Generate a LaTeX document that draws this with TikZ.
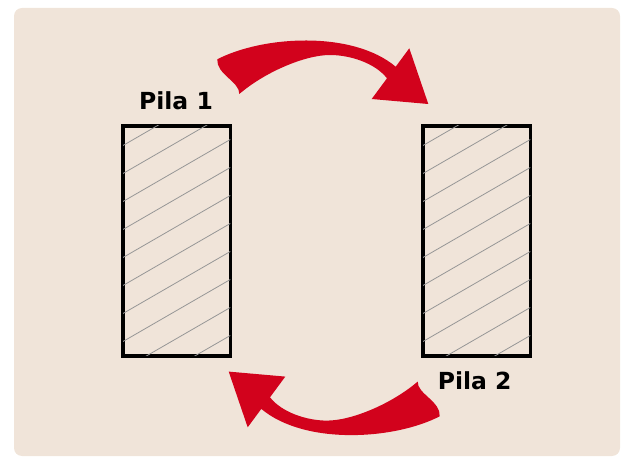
\documentclass[tikz,border=0pt]{standalone}
\usepackage{fontspec}
\setmainfont{DejaVu Sans}
\definecolor{panel}{RGB}{240,228,217}
\definecolor{arrowred}{RGB}{210,2,28}
\definecolor{hatchgray}{RGB}{150,150,150}
\begin{document}
\begin{tikzpicture}[x=1pt,y=-1pt,
  pilebox/.style={draw=black, line width=3.5pt, inner sep=0pt,
    minimum width=107.3pt, minimum height=230pt},
  hatchline/.style={draw=hatchgray, line width=0.8pt},
  pilelabel/.style={font=\bfseries\fontsize{23.5}{28}\selectfont,
    text=black, inner sep=0pt, anchor=base},
  swoosh/.style={fill=arrowred}]
\useasboundingbox (0,0) rectangle (622,457);
\fill[panel, rounded corners=8pt] (14,8) rectangle (620,456);

% the two piles
\node[pilebox] (pila1) at (176.65,241) {};
\node[pilebox] (pila2) at (476.65,241) {};

% diagonal hatching inside each pile
\foreach \p/\xl in {pila1/123, pila2/423} {
  \begin{scope}
    \clip ([shift={(1.75pt,-1.75pt)}]\p.north west)
      rectangle ([shift={(-1.75pt,1.75pt)}]\p.south east);
    \foreach \k in {0,...,10}
      \draw[hatchline] (\xl,{145.5+28*\k}) -- ++(107.3,-62);
  \end{scope}
}

% labels
\node[pilelabel] (lab1) at (176,109.3) {Pila 1};
\node[pilelabel] (lab2) at (474.7,390) {Pila 2};

% transfer arrows: the lower one is the upper one turned half a turn
\foreach \ang in {0,180} {
  \begin{scope}[rotate around={\ang:(328.5,237.8)}]
    \path[swoosh] (217.3,59.3)
      .. controls (262,36) and (352,30) .. (395.7,66.7)
      -- (409.3,48.3) -- (428.3,104) -- (371.7,99) -- (387,78.3)
      .. controls (375,63) and (350,55) .. (330,55)
      .. controls (305,55) and (265,72) .. (239.3,94)
      .. controls (240,82) and (216,74) .. (217.3,59.3) -- cycle;
  \end{scope}
}
\end{tikzpicture}
\end{document}
